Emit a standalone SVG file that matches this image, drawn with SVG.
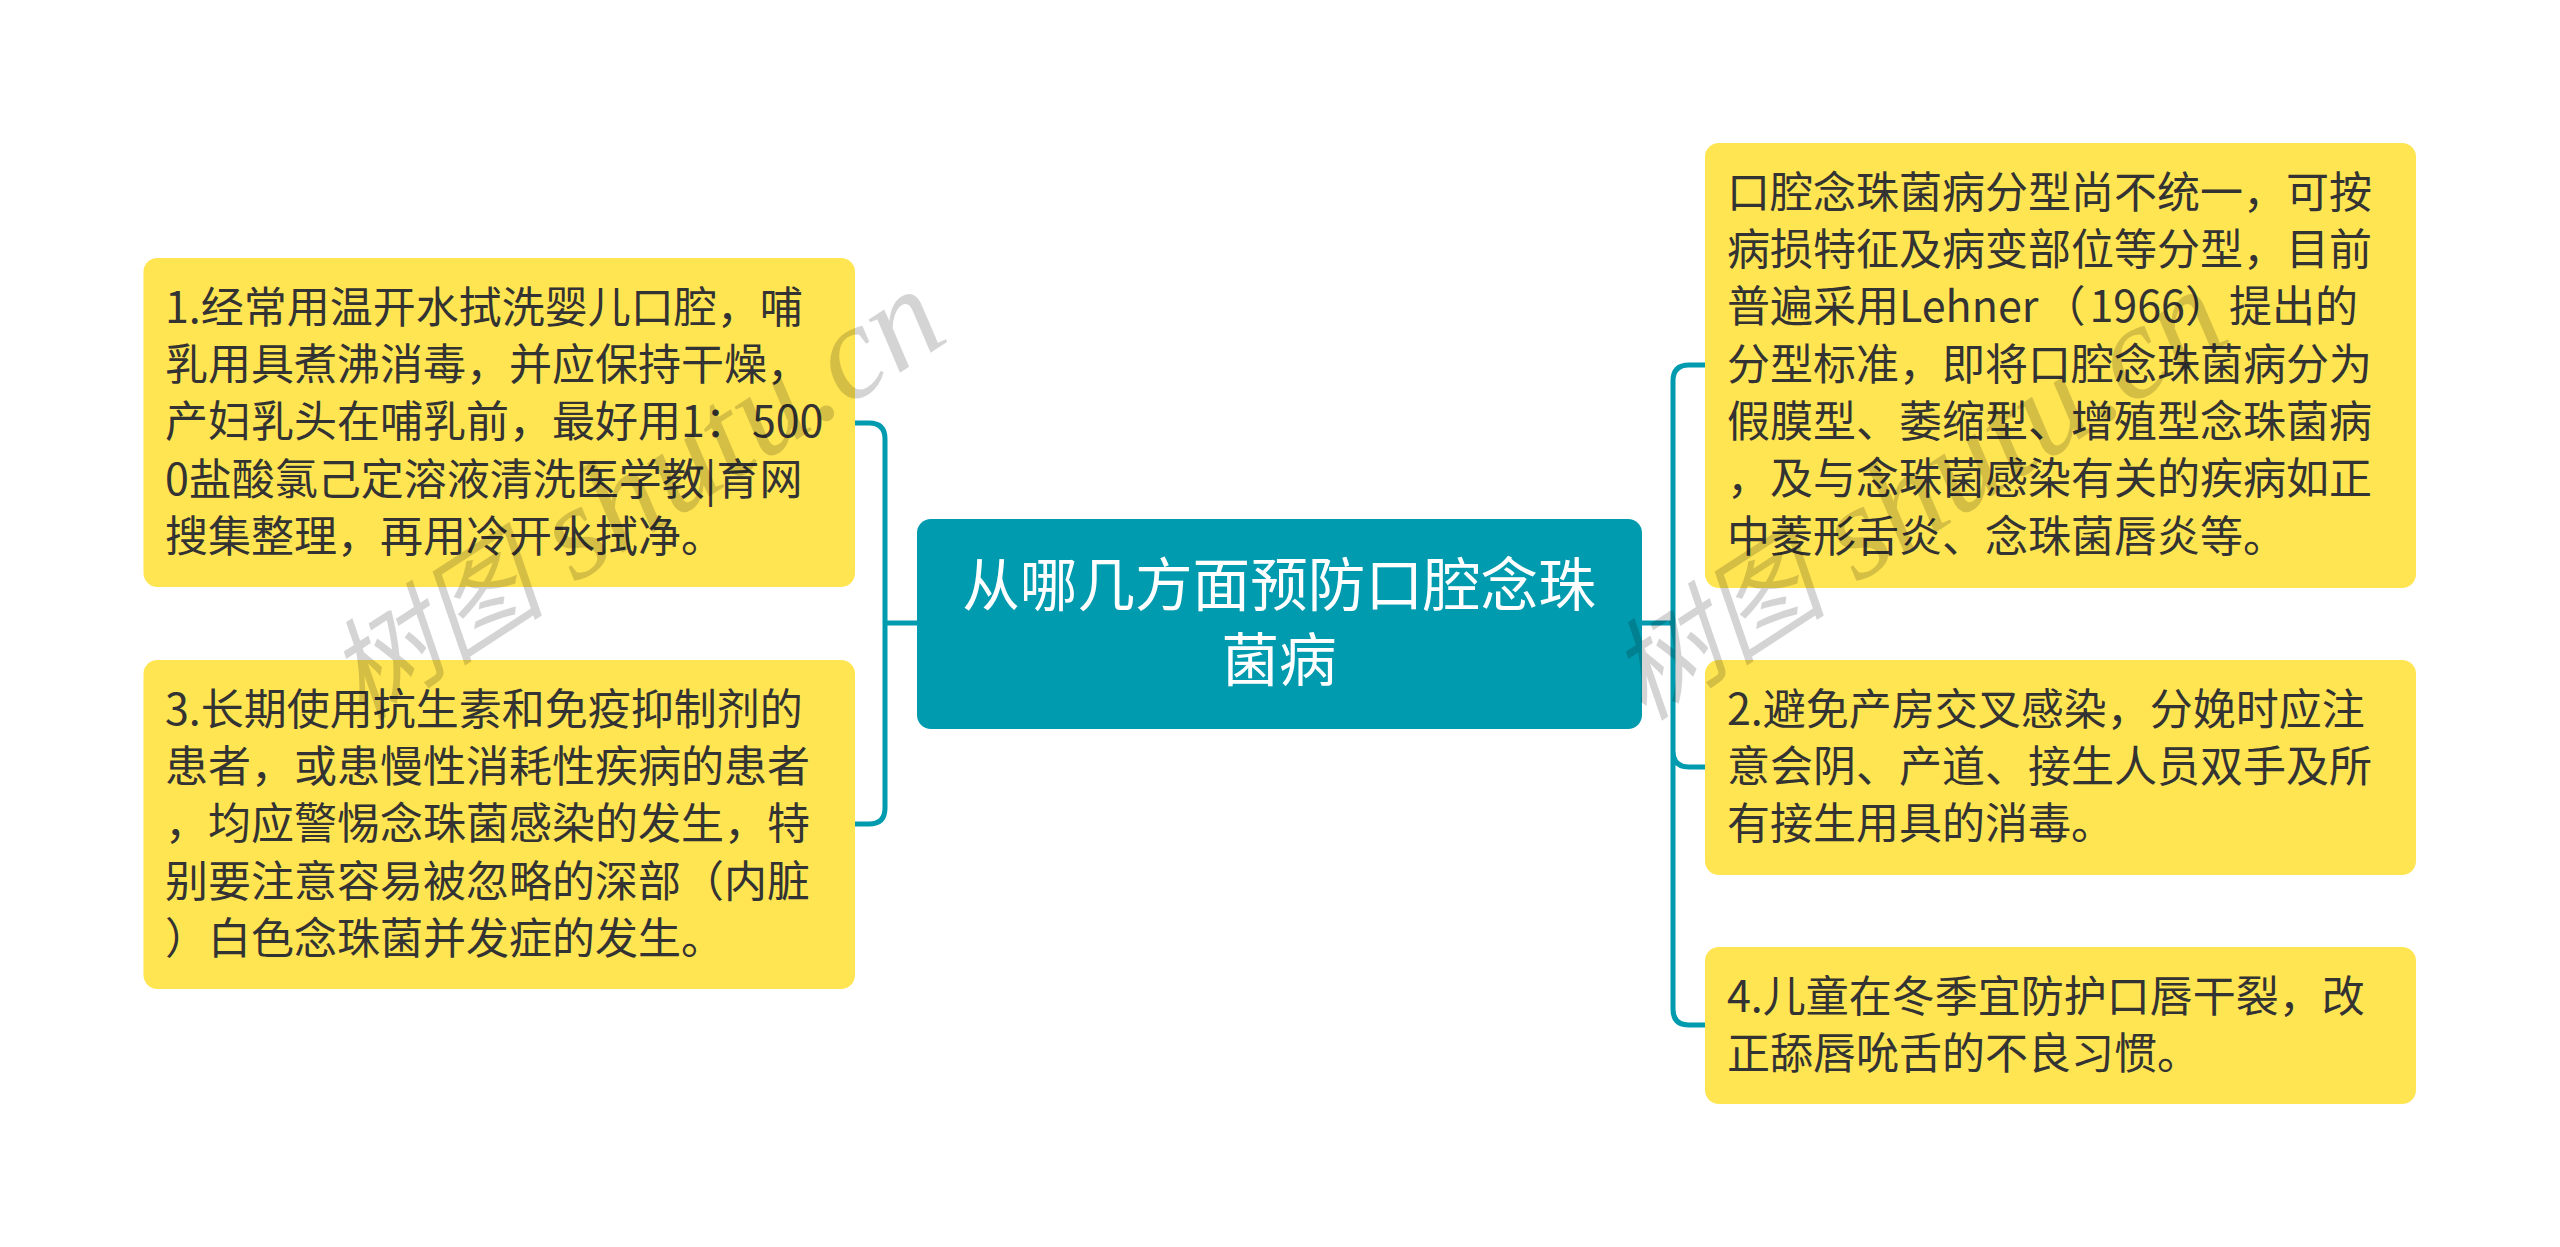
<svg xmlns="http://www.w3.org/2000/svg" width="2560" height="1247" viewBox="0 0 2560 1247">
<style>
.n{fill:#FFE552}
.t{font-family:"Noto Sans CJK SC","Liberation Sans",sans-serif;font-size:43px;fill:#333;text-spacing-trim:space-all;font-feature-settings:"chws" 0,"palt" 0}
.c{font-family:"Noto Sans CJK SC","Liberation Sans",sans-serif;font-size:57.6px;fill:#fff;text-anchor:middle}
.l{fill:none;stroke:#009BAE;stroke-width:5}
.w{font-family:"Liberation Serif","Noto Sans CJK SC",serif;font-style:italic;font-size:134px;fill:#000;fill-opacity:.17}
.wc{font-size:110px}
</style>
<rect width="2560" height="1247" fill="#fff"/>
<g id="connectors">
<path class="l" d="M917 623H885M855 423H869Q885 423 885 439V808Q885 824 869 824H855"/>
<path class="l" d="M1642 623H1673M1705 365H1689Q1673 365 1673 381V1009Q1673 1025 1689 1025H1705M1673 751Q1673 767 1689 767H1705"/>
</g>
<g id="center"><rect x="917" y="519" width="725" height="210" rx="14" fill="#009BAE"/>
<text class="c"><tspan x="1279" y="606">从哪几方面预防口腔念珠</tspan><tspan x="1279" y="681">菌病</tspan></text></g>
<g id="n1"><rect class="n" x="143.500" y="258" width="711.500" height="329" rx="14"/>
<text class="t"><tspan x="165" y="323">1.经常用温开水拭洗婴儿口腔，哺</tspan><tspan x="165" y="380">乳用具煮沸消毒，并应保持干燥，</tspan><tspan x="165" y="437">产妇乳头在哺乳前，最好用1：</tspan><tspan dx="4">500</tspan><tspan x="165" y="495">0盐酸氯己定溶液清洗医学教|育网</tspan><tspan x="165" y="552">搜集整理，再用冷开水拭净。</tspan></text></g>
<g id="n3"><rect class="n" x="143.500" y="660" width="711.500" height="329" rx="14"/>
<text class="t"><tspan x="165" y="725">3.长期使用抗生素和免疫抑制剂的</tspan><tspan x="165" y="782">患者，或患慢性消耗性疾病的患者</tspan><tspan x="165" y="839">，均应警惕念珠菌感染的发生，特</tspan><tspan x="165" y="897">别要注意容易被忽略的深部（内脏</tspan><tspan x="165" y="954">）白色念珠菌并发症的发生。</tspan></text></g>
<g id="r1"><rect class="n" x="1705" y="143" width="711" height="445" rx="14"/>
<text class="t"><tspan x="1727" y="208">口腔念珠菌病分型尚不统一，可按</tspan><tspan x="1727" y="265">病损特征及病变部位等分型，目前</tspan><tspan x="1727" y="322">普遍采用Lehner</tspan><tspan dx="4">（</tspan><tspan dx="4">1966</tspan><tspan>）</tspan><tspan dx="1">提出的</tspan><tspan x="1727" y="380">分型标准，即将口腔念珠菌病分为</tspan><tspan x="1727" y="437">假膜型、萎缩型、增殖型念珠菌病</tspan><tspan x="1727" y="494">，及与念珠菌感染有关的疾病如正</tspan><tspan x="1727" y="552">中菱形舌炎、念珠菌唇炎等。</tspan></text></g>
<g id="r2"><rect class="n" x="1705" y="660" width="711" height="215" rx="14"/>
<text class="t"><tspan x="1727" y="725">2.避免产房交叉感染，分娩时应注</tspan><tspan x="1727" y="782">意会阴、产道、接生人员双手及所</tspan><tspan x="1727" y="839">有接生用具的消毒。</tspan></text></g>
<g id="r3"><rect class="n" x="1705" y="947" width="711" height="157" rx="14"/>
<text class="t"><tspan x="1727" y="1012">4.儿童在冬季宜防护口唇干裂，改</tspan><tspan x="1727" y="1069">正舔唇吮舌的不良习惯。</tspan></text></g>
<text class="w" transform="translate(362 722) rotate(-33)"><tspan class="wc">树图</tspan> shutu.cn</text>
<text class="w" transform="translate(1644 722) rotate(-33)"><tspan class="wc">树图</tspan> shutu.cn</text>
</svg>
